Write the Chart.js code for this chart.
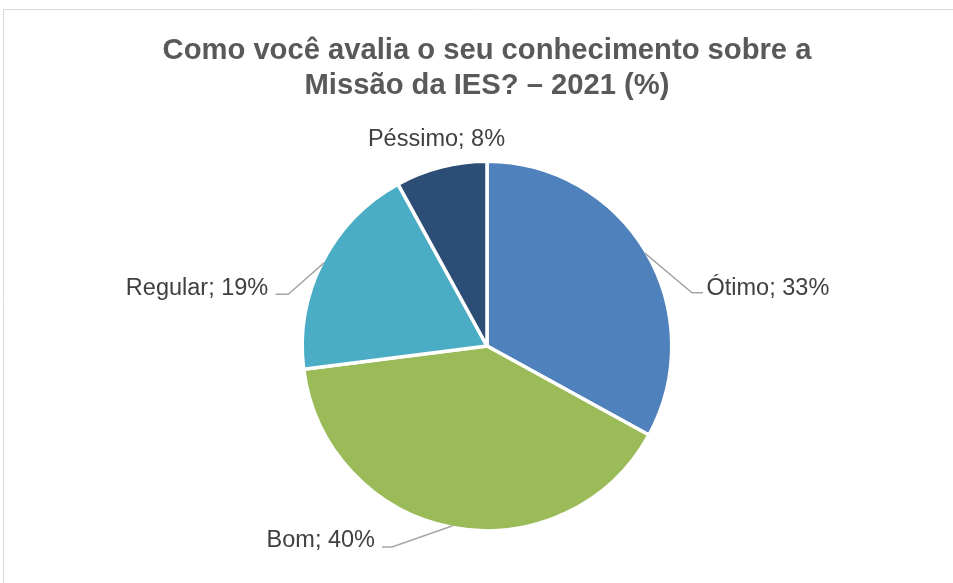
<!DOCTYPE html>
<html>
<head>
<meta charset="utf-8">
<script src="https://cdn.jsdelivr.net/npm/chart.js@4"></script>
<style>
html,body{margin:0;padding:0;background:#fff;}
#wrap{position:relative;width:953px;height:583px;}
canvas{display:block;}
</style>
</head>
<body>
<div id="wrap"><canvas id="c" width="953" height="583"></canvas></div>
<script>
const categories = ['Ótimo', 'Bom', 'Regular', 'Péssimo'];
const values = [33, 40, 19, 8];
const colors = ['#4F81BD', '#9BBB59', '#4BACC6', '#2C4D75'];
const titleLines = ['Como você avalia o seu conhecimento sobre a', 'Missão da IES? – 2021 (%)'];

const BW = 3.5;

// label placement relative to the slice's outer-edge midpoint
const labelPlacement = [
  {elbow: [47.5, 40], arm: 11, gap: 3.5, base: 2, align: 'left', leader: true},
  {elbow: [-60.7, 21.2], arm: -10, gap: 7, base: 0, align: 'right', leader: true},
  {elbow: [-35.7, 31.3], arm: -12.6, gap: 7.4, base: 0.7, align: 'right', leader: true},
  {elbow: [-5, -22.5], arm: 0, gap: 0, base: 0, align: 'center', leader: false}
];

const frame = {
  id: 'frame',
  beforeDraw(chart) {
    const ctx = chart.ctx;
    ctx.save();
    ctx.fillStyle = '#fff';
    ctx.fillRect(0, 0, chart.width, chart.height);
    ctx.strokeStyle = '#D9D9D9';
    ctx.lineWidth = 1;
    ctx.beginPath();
    ctx.moveTo(3.5, chart.height + 5);
    ctx.lineTo(3.5, 9.5);
    ctx.lineTo(chart.width + 5, 9.5);
    ctx.stroke();
    ctx.restore();
  }
};

const pieLabels = {
  id: 'pieLabels',
  afterDatasetsDraw(chart) {
    const ctx = chart.ctx;
    const meta = chart.getDatasetMeta(0);
    const data = chart.data.datasets[0].data;
    ctx.save();
    ctx.font = '23.5px "Liberation Sans", Arial, sans-serif';
    ctx.fillStyle = '#404040';
    ctx.textBaseline = 'alphabetic';
    meta.data.forEach((arc, i) => {
      const p = arc.getProps(['x', 'y', 'startAngle', 'endAngle', 'outerRadius'], true);
      const mid = (p.startAngle + p.endAngle) / 2;
      const r = p.outerRadius - BW / 2;
      const ex = p.x + r * Math.cos(mid);
      const ey = p.y + r * Math.sin(mid);
      const pl = labelPlacement[i];
      const bx = ex + pl.elbow[0];
      const by = ey + pl.elbow[1];
      const lx = bx + pl.arm;
      if (pl.leader) {
        ctx.strokeStyle = '#A6A6A6';
        ctx.lineWidth = 1.5;
        ctx.beginPath();
        ctx.moveTo(ex, ey);
        ctx.lineTo(bx, by);
        ctx.lineTo(lx, by);
        ctx.stroke();
      }
      const text = categories[i] + '; ' + data[i] + '%';
      let tx = lx;
      if (pl.align === 'left') tx = lx + pl.gap;
      else if (pl.align === 'right') tx = lx - pl.gap;
      ctx.textAlign = pl.align;
      ctx.fillText(text, tx, by + pl.base);
    });
    ctx.restore();
  }
};

new Chart(document.getElementById('c'), {
  type: 'pie',
  data: {
    labels: categories,
    datasets: [{
      data: values,
      backgroundColor: colors,
      borderColor: '#FFFFFF',
      borderWidth: BW
    }]
  },
  options: {
    responsive: false,
    animation: false,
    layout: {padding: {left: 21, right: 0, top: 0, bottom: 50.5}},
    plugins: {
      legend: {display: false},
      tooltip: {enabled: false},
      title: {
        display: true,
        text: titleLines,
        color: '#595959',
        font: {family: '"Liberation Sans", Arial, sans-serif', size: 29.2, weight: 'bold', lineHeight: 35 / 29.2},
        padding: {top: 33, bottom: 56.5}
      }
    }
  },
  plugins: [frame, pieLabels]
});
</script>
</body>
</html>
